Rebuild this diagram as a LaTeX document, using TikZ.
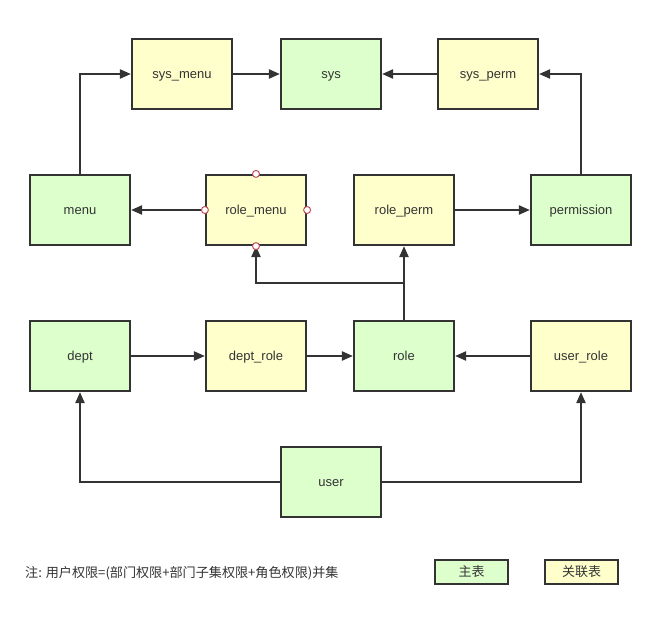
\documentclass[tikz,border=0pt]{standalone}
\usepackage{fontspec}
\setmainfont{Liberation Sans}
\newfontfamily\cjk{Noto Sans CJK SC}
\usetikzlibrary{arrows.meta}
\definecolor{mainfill}{HTML}{DDFFCC}
\definecolor{linkfill}{HTML}{FFFFCC}
\definecolor{edge}{HTML}{333333}
\definecolor{dotred}{HTML}{C0505A}
\tikzset{
  tbl/.style={draw=edge, line width=2.2pt, minimum width=100pt, minimum height=70pt, inner sep=0pt, text=edge, font=\fontsize{13}{15}\selectfont, text height=10pt, text depth=1.5pt},
  maintbl/.style={tbl, fill=mainfill},
  linktbl/.style={tbl, fill=linkfill},
  legendbox/.style={draw=edge, line width=2.2pt, minimum width=73pt, minimum height=24pt, inner sep=0pt, text=edge, font=\cjk\fontsize{13}{15}\selectfont},
  conn/.style={draw=edge, line width=2.2pt, -{Triangle[length=11pt,width=9pt]}},
  port/.style={circle, draw=dotred, fill=white, line width=1pt, minimum size=7pt, inner sep=0pt}
}
\begin{document}
\begin{tikzpicture}[x=1pt,y=-1pt]
\useasboundingbox (0,0) rectangle (662,618);
\node[linktbl] (sysmenu) at (182,74) {sys\_menu};
\node[maintbl] (sys) at (331,74) {sys};
\node[linktbl] (sysperm) at (488,74) {sys\_perm};
\node[maintbl] (menu) at (80,210) {menu};
\node[linktbl] (rolemenu) at (256,210) {role\_menu};
\node[linktbl] (roleperm) at (404,210) {role\_perm};
\node[maintbl] (permission) at (581,210) {permission};
\node[maintbl] (dept) at (80,356) {dept};
\node[linktbl] (deptrole) at (256,356) {dept\_role};
\node[maintbl] (role) at (404,356) {role};
\node[linktbl] (userrole) at (581,356) {user\_role};
\node[maintbl] (user) at (331,482) {user};

\draw[conn] (menu.north) |- (sysmenu.west);
\draw[conn] (sysmenu) -- (sys);
\draw[conn] (sysperm) -- (sys);
\draw[conn] (permission.north) |- (sysperm.east);
\draw[conn] (rolemenu) -- (menu);
\draw[conn] (roleperm) -- (permission);
\draw[conn] (dept) -- (deptrole);
\draw[conn] (deptrole) -- (role);
\draw[conn] (userrole) -- (role);
\draw[conn] (role.north) -- (roleperm.south);
\coordinate (branch) at (404,283);
\draw[conn] (branch) -| (rolemenu.south);
\draw[conn] (user.west) -| (dept.south);
\draw[conn] (user.east) -| (userrole.south);

\node[port] at (rolemenu.north) {};
\node[port] at (rolemenu.south) {};
\node[port] at (rolemenu.west) {};
\node[port] at (rolemenu.east) {};

\node[anchor=west, text=edge, font=\cjk\fontsize{13.1}{15}\selectfont, inner sep=0pt] (note) at (25,573) {注: 用户权限=(部门权限+部门子集权限+角色权限)并集};
\node[legendbox, fill=mainfill] (lmain) at (471.5,572) {主表};
\node[legendbox, fill=linkfill] (llink) at (581.5,572) {关联表};
\end{tikzpicture}
\end{document}
